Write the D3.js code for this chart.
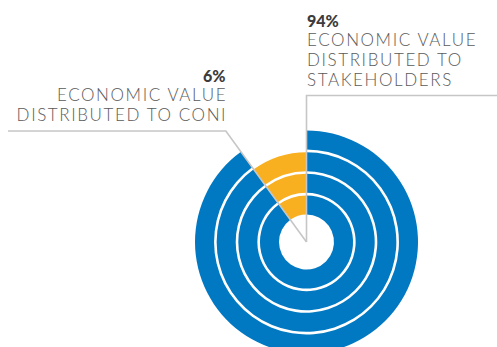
<!DOCTYPE html>
<html>
<head>
<meta charset="utf-8">
<script src="https://cdn.jsdelivr.net/npm/d3@7"></script>
<style>
  html, body { margin: 0; padding: 0; background: #fff; }
  svg { display: block; }
  .pct { font-family: Lato, "Noto Sans", sans-serif; font-weight: 900; fill: #3c3c3c; }
  .desc { font-family: Lato, "Noto Sans", sans-serif; font-weight: 300; fill: #5a5a5a; }
</style>
</head>
<body>
<svg id="chart" width="497" height="347"></svg>
<script>
// Recipients of the economic value, in slice order (clockwise from 12 o'clock)
const categories = ["Stakeholders", "CONI"];

// Angular split of each ring, innermost ring first
const ringSplit = [
  [90, 10],
  [90, 10],
  [90, 10],
  [90, 10]
];

// Whether the CONI slice is painted on each ring (the outer ring leaves it blank)
const ringShowsConi = [true, true, true, false];

// Callout texts
const calloutValues = ["94%", "6%"];
const calloutLines = [
  ["ECONOMIC VALUE", "DISTRIBUTED TO", "STAKEHOLDERS"],
  ["ECONOMIC VALUE", "DISTRIBUTED TO CONI"]
];

const W = 497, H = 347;
const cx = 306.5, cy = 242;
const innerR = 27.5, outerR = 111.5;

const svg = d3.select("#chart");

const color = d3.scaleOrdinal()
  .domain(categories)
  .range(["#0079c2", "#f8b020"]);

// one band per ring, from the hole outwards
const ringScale = d3.scaleBand()
  .domain(d3.range(ringSplit.length))
  .range([innerR, outerR])
  .paddingInner(0.12)
  .paddingOuter(0);

const pie = d3.pie().sort(null).value(d => d.value);

const rings = svg.append("g")
  .attr("transform", `translate(${cx},${cy})`);

ringSplit.forEach((split, i) => {
  const r0 = ringScale(i);
  const r1 = r0 + ringScale.bandwidth();
  const arc = d3.arc().innerRadius(r0).outerRadius(r1);
  const slices = pie(split.map((v, k) => ({ key: categories[k], value: v })))
    .filter(d => d.data.key !== "CONI" || ringShowsConi[i]);
  rings.append("g")
    .selectAll("path")
    .data(slices)
    .join("path")
    .attr("d", arc)
    .attr("fill", d => color(d.data.key));
});

// CONI slice boundary angle, used to route its leader line
const coniStart = pie(ringSplit[0].map((v, k) => ({ key: categories[k], value: v })))[1].startAngle;

// leader lines
const lineColor = "#c6c6c6";
const rightElbowY = 95.5;
svg.append("path")
  .attr("d", d3.line()([[W, rightElbowY], [cx, rightElbowY], [cx, cy]]))
  .attr("fill", "none").attr("stroke", lineColor).attr("stroke-width", 1.6);

const leftElbowY = 131;
const elbowX = cx - Math.tan(2 * Math.PI - coniStart) * (cy - leftElbowY);
svg.append("path")
  .attr("d", d3.line()([[8, leftElbowY], [elbowX, leftElbowY], [cx, cy]]))
  .attr("fill", "none").attr("stroke", lineColor).attr("stroke-width", 1.6);

// callout texts
const spacing = 1.6;
function callout(x, yTop, anchor, value, lines, lineGap) {
  const g = svg.append("g").attr("text-anchor", anchor);
  const shift = anchor === "end" ? spacing : 0;
  g.append("text").attr("class", "pct")
    .attr("x", x).attr("y", yTop)
    .style("font-size", "16px")
    .text(value);
  lines.forEach((t, j) => {
    g.append("text").attr("class", "desc")
      .attr("x", x + shift).attr("y", yTop + 19 + j * lineGap)
      .style("font-size", "17px")
      .style("letter-spacing", spacing + "px")
      .text(t);
  });
}
callout(307, 26.7, "start", calloutValues[0], calloutLines[0], 20.2);
callout(225.5, 81.7, "end", calloutValues[1], calloutLines[1], 20);
</script>
</body>
</html>
